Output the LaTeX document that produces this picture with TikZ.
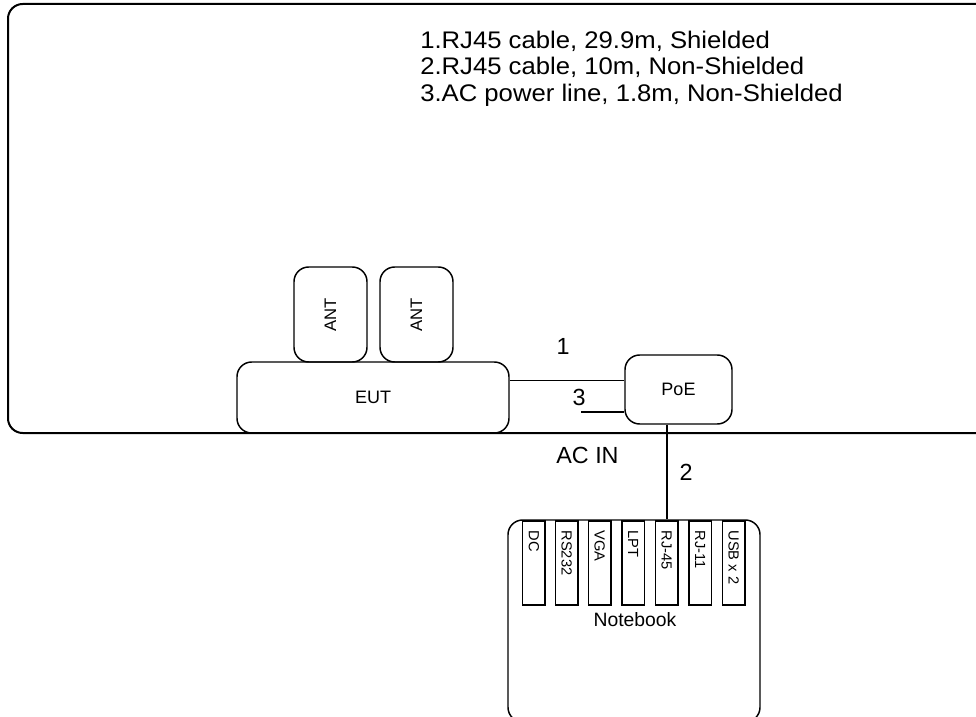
\documentclass[tikz,border=0pt]{standalone}
\usepackage{fontspec}
\setmainfont{Liberation Sans}
\usetikzlibrary{calc}
\begin{document}
\begin{tikzpicture}[x=0.75pt,y=-0.75pt,
  frame/.style={draw, line width=1.5pt, rounded corners=11pt, inner sep=0pt},
  rbox/.style={draw, line width=1.1pt, rounded corners=11pt, inner sep=0pt},
  slotbox/.style={draw, line width=1.1pt, inner sep=0pt, minimum width=22.3*0.75pt, minimum height=84*0.75pt},
  slotlabel/.style={font=\fontsize{11}{13}\selectfont, inner sep=0pt, anchor=west, rotate=-90},
  boxlabel/.style={font=\fontsize{13.5}{16}\selectfont, inner sep=0pt},
  antlabel/.style={font=\fontsize{12.5}{15}\selectfont, inner sep=0pt, rotate=90},
  cablelabel/.style={font=\fontsize{17.5}{20}\selectfont, inner sep=0pt},
  headline/.style={font=\fontsize{18}{21}\selectfont, inner sep=0pt, anchor=base west},
  thin cable/.style={line width=0.75pt},
  mid cable/.style={line width=1.1pt},
  thick cable/.style={line width=1.5pt}]
\useasboundingbox (0,0) rectangle (976,717);

% outer frame (extends past right edge)
\node[frame, minimum width=992*0.75pt, minimum height=429*0.75pt] (frm) at (504,218.5) {};

% header text
\node[headline] (h1) at (420,48.3) {\scalebox{1.07}[1]{1.RJ45 cable, 29.9m, Shielded}};
\node[headline] (h2) at (420,75) {\scalebox{1.07}[1]{2.RJ45 cable, 10m, Non-Shielded}};
\node[headline] (h3) at (420,101.7) {\scalebox{1.07}[1]{3.AC power line, 1.8m, Non-Shielded}};

% antennas
\node[rbox, minimum width=73*0.75pt, minimum height=95*0.75pt] (ant1) at (330.5,314.5) {};
\node[antlabel] (ant1t) at (ant1.center) {ANT};
\node[rbox, minimum width=73*0.75pt, minimum height=95*0.75pt] (ant2) at (416.5,314.5) {};
\node[antlabel] (ant2t) at (ant2.center) {ANT};

% EUT
\node[rbox, minimum width=272*0.75pt, minimum height=71*0.75pt] (eut) at (373,397.5) {};
\node[boxlabel] (eutt) at (eut.center) {EUT};

% PoE
\node[rbox, minimum width=107*0.75pt, minimum height=69*0.75pt] (poe) at (678.5,389.5) {};
\node[boxlabel] (poet) at (poe.center) {PoE};

% Notebook
\node[rbox, minimum width=252*0.75pt, minimum height=202*0.75pt] (nb) at (634,621) {};
\node[font=\fontsize{14.5}{17}\selectfont, inner sep=0pt] (nbt) at (635,620) {Notebook};

% slots
\foreach \i/\xx/\lab in {1/533.9/DC, 2/566.7/RS232, 3/599.7/VGA, 4/633.2/LPT, 5/666.7/RJ-45, 6/700.2/RJ-11, 7/733.7/USB x 2}{
  \node[slotbox] (s\i) at (\xx,563) {};
  \node[slotlabel] (s\i t) at ($(s\i.north)+(0,10)$) {\lab};
}

% cables
\coordinate (l1y) at (0,380.7);
\draw[thin cable] (eut.east |- l1y) -- (poe.west |- l1y);
\node[cablelabel] (c1) at (563,346) {1};

\coordinate (l3end) at (581,412);
\draw[thick cable] (l3end) -- (poe.west |- l3end);
\node[cablelabel] (c3) at (579,397.5) {3};

\coordinate (l2x) at (667,0);
\draw[mid cable] (poe.south -| l2x) -- (nb.north -| l2x);
\node[cablelabel] (c2) at (686,472) {2};

\node[cablelabel] (acin) at (587.5,455) {AC IN};
\end{tikzpicture}
\end{document}
